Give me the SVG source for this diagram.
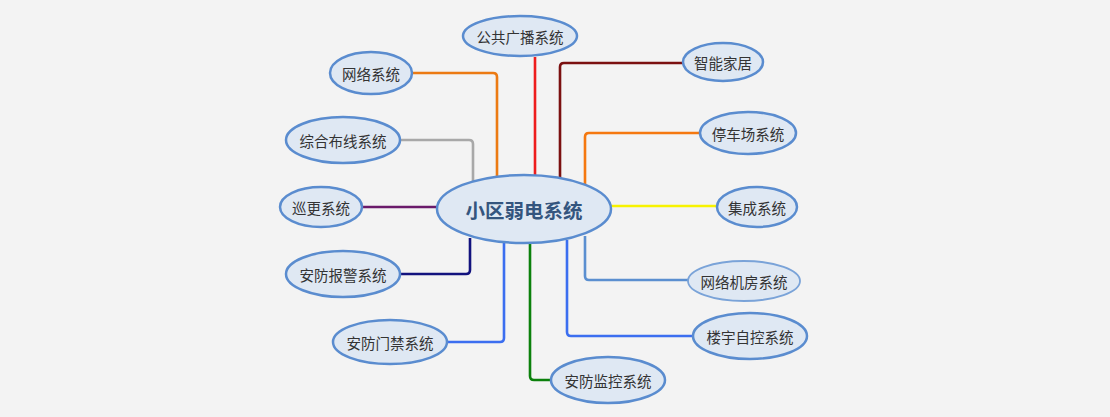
<svg xmlns="http://www.w3.org/2000/svg" width="1110" height="417" viewBox="0 0 1110 417">
<style>
.n ellipse{fill:#dfe8f3;stroke:#5a8ccf;stroke-width:2.5}
.n text{font-family:"Noto Sans CJK SC","Noto Sans",sans-serif;font-size:14.5px;fill:#333;text-anchor:middle;dominant-baseline:central}
#center text{font-size:19.5px;font-weight:bold;fill:#34557e}
#n-jifang ellipse{stroke:#7aa3d8;stroke-width:1.8}
.c path{fill:none;stroke-width:2.6;stroke-linejoin:round}
</style>
<rect width="1110" height="417" fill="#f3f3f3"/>
<g class="c" id="connectors">
<path d="M535,57 V178" stroke="#ee1c1c"/>
<path d="M560,178 V67 Q560,63 564,63 H684" stroke="#7b1010"/>
<path d="M585,184 V137 Q585,133 589,133 H701" stroke="#f5780f"/>
<path d="M610,206 H717" stroke="#f7f200"/>
<path d="M585,236 V276 Q585,280 589,280 H688" stroke="#5b8fd0"/>
<path d="M567,240 V332 Q567,336 571,336 H694" stroke="#3b6ef0"/>
<path d="M530,243 V376 Q530,380 534,380 H552" stroke="#0b800b"/>
<path d="M504,243 V338 Q504,342 500,342 H447" stroke="#3b6ef0"/>
<path d="M470,238 V270 Q470,274 466,274 H400" stroke="#12127e"/>
<path d="M362,207 H440" stroke="#6a1a6a"/>
<path d="M400,140 H469 Q473,140 473,144 V182" stroke="#a8a8a8"/>
<path d="M412,73 H493 Q497,73 497,77 V178" stroke="#ec7a12"/>
</g>
<g class="n" id="center"><ellipse cx="524" cy="209" rx="87" ry="34"/><text x="524" y="209">小区弱电系统</text></g>
<g class="n" id="n-guangbo"><ellipse cx="520" cy="36" rx="57" ry="20"/><text x="520" y="36">公共广播系统</text></g>
<g class="n" id="n-jiaju"><ellipse cx="723" cy="62" rx="40" ry="19"/><text x="723" y="62">智能家居</text></g>
<g class="n" id="n-wangluo"><ellipse cx="371" cy="73" rx="41" ry="21"/><text x="371" y="73">网络系统</text></g>
<g class="n" id="n-buxian"><ellipse cx="343" cy="140" rx="57" ry="23"/><text x="343" y="140">综合布线系统</text></g>
<g class="n" id="n-xungeng"><ellipse cx="321" cy="207" rx="41" ry="20"/><text x="321" y="207">巡更系统</text></g>
<g class="n" id="n-baojing"><ellipse cx="343" cy="274" rx="57" ry="23"/><text x="343" y="274">安防报警系统</text></g>
<g class="n" id="n-menjin"><ellipse cx="390" cy="342" rx="57" ry="22"/><text x="390" y="342">安防门禁系统</text></g>
<g class="n" id="n-jiankong"><ellipse cx="608" cy="380" rx="57" ry="23"/><text x="608" y="380">安防监控系统</text></g>
<g class="n" id="n-louyu"><ellipse cx="750" cy="336" rx="57" ry="23"/><text x="750" y="336">楼宇自控系统</text></g>
<g class="n" id="n-jifang"><ellipse cx="744" cy="281" rx="56" ry="20"/><text x="744" y="281">网络机房系统</text></g>
<g class="n" id="n-jicheng"><ellipse cx="757" cy="207" rx="40" ry="20"/><text x="757" y="207">集成系统</text></g>
<g class="n" id="n-tingche"><ellipse cx="748" cy="133" rx="48" ry="21"/><text x="748" y="133">停车场系统</text></g>
</svg>
